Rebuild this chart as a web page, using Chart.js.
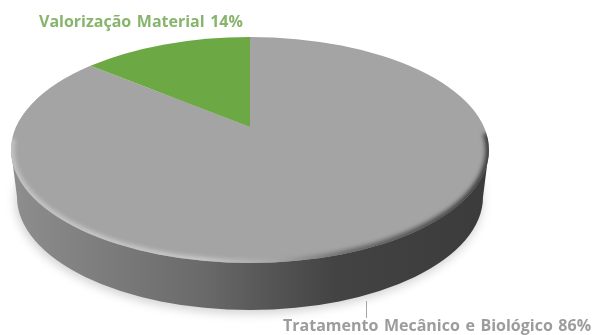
<!DOCTYPE html>
<html lang="pt">
<head>
  <meta charset="UTF-8" />
  <title>Valorização de resíduos</title>
  <script src="https://cdn.jsdelivr.net/npm/chart.js"></script>
  <style>
    html, body { margin: 0; padding: 0; background: #fff; overflow: hidden; }
    canvas { display: block; }
  </style>
</head>
<body>
<canvas id="pie" width="594" height="335"></canvas>

<script>
const categories = ['Tratamento Mecânico e Biológico', 'Valorização Material'];
const shares = [86, 14];
const sliceColors = ['#a5a4a5', '#6ca844'];
const labelColors = ['#9c9c9c', '#86b56b'];

// top face ellipse, seen in perspective so the pie centre sits above the ellipse centre
const top3d = { x: 250, y: 150, rx: 239, ry: 113 };
const base3d = { x: 250, y: 197, rx: 233, ry: 113 };
const centreShift = -0.204;

// angle on the flat pie -> angle on the tilted ellipse
function tilt(angle) {
  const a = centreShift;
  const px = Math.cos(angle), py = Math.sin(angle);
  const d = 1 + a * py;
  return Math.atan2((py + a) / d, px * Math.sqrt(1 - a * a) / d);
}

function drawBody(ctx) {
  // soft shadow under the disc
  ctx.save();
  ctx.filter = 'blur(5px)';
  ctx.fillStyle = '#d4d4d4';
  ctx.beginPath();
  ctx.ellipse(base3d.x - 1, base3d.y + 3, base3d.rx + 1, base3d.ry + 1, 0, 0, Math.PI * 2);
  ctx.fill();
  ctx.restore();

  // side wall
  const wall = ctx.createLinearGradient(top3d.x - top3d.rx, 0, top3d.x + top3d.rx, 0);
  wall.addColorStop(0, '#8e8e8e');
  wall.addColorStop(0.2, '#7c7c7c');
  wall.addColorStop(0.4, '#6a6a6a');
  wall.addColorStop(0.55, '#545454');
  wall.addColorStop(0.68, '#434343');
  wall.addColorStop(1, '#3b3b3b');
  ctx.save();
  ctx.filter = 'blur(0.6px)';
  ctx.fillStyle = wall;
  ctx.beginPath();
  ctx.moveTo(top3d.x - top3d.rx, top3d.y);
  ctx.lineTo(base3d.x - base3d.rx, base3d.y);
  ctx.ellipse(base3d.x, base3d.y, base3d.rx, base3d.ry, 0, Math.PI, 0, true);
  ctx.lineTo(top3d.x + top3d.rx, top3d.y);
  ctx.closePath();
  ctx.fill();
  ctx.restore();
}

function drawBevel(ctx) {
  const rim = ctx.createLinearGradient(top3d.x - top3d.rx, 0, top3d.x + top3d.rx, 0);
  rim.addColorStop(0, '#c4c4c4');
  rim.addColorStop(0.4, '#c8c8c8');
  rim.addColorStop(0.55, '#a8a8a8');
  rim.addColorStop(0.7, '#6a6a6a');
  rim.addColorStop(1, '#3c3c3c');
  ctx.save();
  ctx.beginPath();
  ctx.ellipse(top3d.x, top3d.y, top3d.rx, top3d.ry, 0, 0, Math.PI * 2);
  ctx.clip();
  ctx.filter = 'blur(2.2px)';
  ctx.strokeStyle = rim;
  ctx.lineWidth = 7;
  ctx.beginPath();
  ctx.ellipse(top3d.x, top3d.y, top3d.rx, top3d.ry, 0, -0.15, Math.PI + 0.1);
  ctx.stroke();
  ctx.restore();
}

const disc3d = {
  id: 'disc3d',
  beforeDatasetDraw(chart, args) {
    const ctx = chart.ctx;
    drawBody(ctx);
    // slices come from the angles chart.js worked out for the data
    chart.getDatasetMeta(args.index).data.forEach((arc, i) => {
      const apexY = top3d.y + centreShift * top3d.ry;
      ctx.save();
      ctx.filter = 'blur(0.4px)';
      ctx.fillStyle = sliceColors[i];
      ctx.beginPath();
      ctx.moveTo(top3d.x, apexY);
      ctx.ellipse(top3d.x, top3d.y, top3d.rx, top3d.ry, 0, tilt(arc.startAngle), tilt(arc.endAngle));
      ctx.closePath();
      ctx.fill();
      ctx.restore();
    });
    drawBevel(ctx);
    return false;
  },
  afterDraw(chart) {
    const ctx = chart.ctx;
    ctx.save();
    // leader line of the big slice
    ctx.strokeStyle = '#a6a6a6';
    ctx.lineWidth = 1;
    ctx.beginPath();
    ctx.moveTo(366.5, 301);
    ctx.lineTo(366.5, 318);
    ctx.stroke();

    ctx.textBaseline = 'alphabetic';
    ctx.filter = 'blur(0.3px)';
    ctx.font = 'bold 16px "Open Sans", sans-serif';
    ctx.wordSpacing = '1.4px';
    ctx.fillStyle = labelColors[1];
    ctx.fillText(categories[1] + ' ' + shares[1] + '%', 39, 27);
    ctx.fillStyle = labelColors[0];
    ctx.fillText(categories[0] + ' ' + shares[0] + '%', 283, 331);
    ctx.restore();
  }
};

new Chart(document.getElementById('pie'), {
  type: 'pie',
  data: {
    labels: categories,
    datasets: [{ data: shares, backgroundColor: sliceColors, borderWidth: 0 }]
  },
  options: {
    responsive: false,
    animation: false,
    plugins: { legend: { display: false }, tooltip: { enabled: false } }
  },
  plugins: [disc3d]
});
</script>
</body>
</html>
